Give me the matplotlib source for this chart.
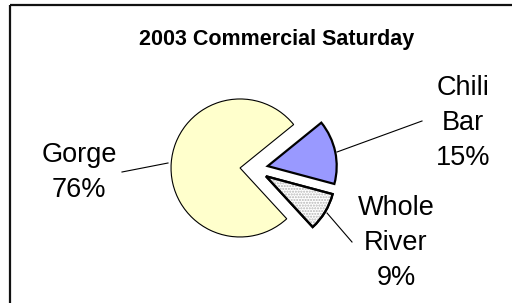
import matplotlib
matplotlib.use("Agg")
import matplotlib.pyplot as plt
from matplotlib.patches import Wedge

categories = ["Chili Bar", "Whole River", "Gorge"]
shares = [15, 9, 76]
title = "2003 Commercial Saturday"

colors = ["#9999FF", "#FFFFFF", "#FFFFCC"]
edge_widths = [1.6, 1.6, 0.8]

W, H = 512, 303
fig = plt.figure(figsize=(W / 100, H / 100), dpi=100)
ax = fig.add_axes([0, 0, 1, 1])

font = "Liberation Sans"

cx, cy, r = 254, H - 169, 69
wedges, _ = ax.pie(shares, colors=colors, startangle=39, counterclock=False,
                   explode=[14] * 3, radius=r, center=(cx, cy), frame=True,
                   wedgeprops=dict(edgecolor="black"))
ax.set_xlim(0, W)
ax.set_ylim(0, H)
ax.set_aspect("equal")
ax.axis("off")
for w, lw in zip(wedges, edge_widths):
    w.set_linewidth(lw)
    w.set_joinstyle("miter")

# frame (left and top edges visible)
ax.plot([9.5, 9.5], [H - 4.5, -10], color="#111111", lw=1.6, solid_capstyle="butt")
ax.plot([9.5, W + 10], [H - 4.5, H - 4.5], color="#111111", lw=1.6, solid_capstyle="butt")

# dotted pattern for Whole River
wr = wedges[1]
pat = Wedge(wr.center, wr.r, wr.theta1, wr.theta2, facecolor="none",
            edgecolor="#b5b5b5", lw=0, hatch="......", zorder=wr.get_zorder() + 0.1)
ax.add_patch(pat)
wr2 = Wedge(wr.center, wr.r, wr.theta1, wr.theta2, facecolor="none",
            edgecolor="black", lw=edge_widths[1], zorder=wr.get_zorder() + 0.2)
wr2.set_joinstyle("miter")
ax.add_patch(wr2)

ax.text(277, H - 39, title, ha="center", va="center", fontsize=15.5,
        fontweight="bold", family=font)

# label placement (image pixel coords): x center, first baseline
label_pos = {"Chili Bar": (463, 95), "Whole River": (396, 215), "Gorge": (79, 162)}
leaders = {"Chili Bar": ((337, 152), (422, 121)),
           "Whole River": ((327, 213), (352, 242)),
           "Gorge": ((168, 163), (122, 172))}
step = 35
for name, val in zip(categories, shares):
    lines = name.split(" ") + [f"{val}%"]
    x0, y0 = label_pos[name]
    for i, s in enumerate(lines):
        ax.text(x0, H - (y0 + i * step), s, ha="center", va="baseline",
                fontsize=19.5, family=font)
    (x1, y1), (x2, y2) = leaders[name]
    ax.plot([x1, x2], [H - y1, H - y2], color="black", lw=0.8)

fig.savefig("out.png", dpi=100)
